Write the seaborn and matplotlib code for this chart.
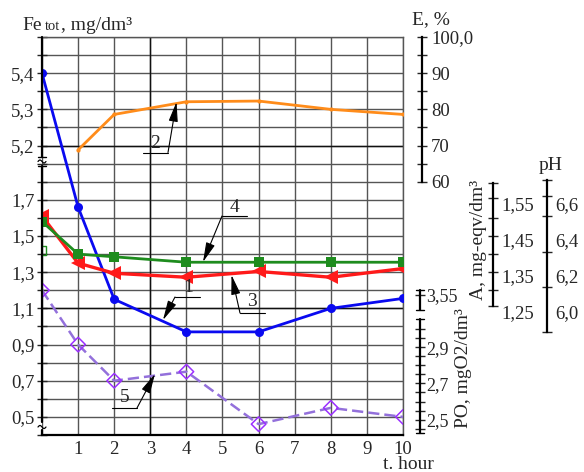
import numpy as np
import matplotlib
matplotlib.use("Agg")
import matplotlib.pyplot as plt
from matplotlib.lines import Line2D
import seaborn as sns

# ---------------- data ----------------
hours_fe = [0, 1, 2, 4, 6, 8, 10]
fe_tot = [5.40, 1.66, 1.15, 0.97, 0.97, 1.10, 1.155]

hours_e = [1, 2, 4, 6, 8, 10]
e_pct = [68.8, 78.6, 82.1, 82.3, 80.0, 78.6]

hours_a = [0, 1, 2, 4, 6, 8, 10]
alk = [1.515, 1.385, 1.357, 1.346, 1.362, 1.346, 1.37]

hours_ph = [0, 1, 2, 4, 6, 8, 10]
ph = [6.50, 6.32, 6.305, 6.275, 6.275, 6.275, 6.275]
hours_ph_extra = [0]
ph_extra = [6.34]

hours_po = [0, 1, 2, 4, 6, 8, 10]
po = [3.575, 2.915, 2.715, 2.765, 2.475, 2.565, 2.515]

x_ticks = list(range(0, 11))
x_labels = [""] + [str(i) for i in range(1, 11)]
fe_ticks = [0.5, 0.7, 0.9, 1.1, 1.3, 1.5, 1.7, 5.2, 5.3, 5.4]
fe_labels = ["0,5", "0,7", "0,9", "1,1", "1,3", "1,5", "1,7", "5,2", "5,3", "5,4"]
e_ticks = [60, 70, 80, 90, 100]
e_labels = ["60", "70", "80", "90", "100,0"]
a_ticks = [1.25, 1.35, 1.45, 1.55]
a_labels = ["1,25", "1,35", "1,45", "1,55"]
ph_ticks = [6.0, 6.2, 6.4, 6.6]
ph_labels = ["6,0", "6,2", "6,4", "6,6"]
po_ticks = [2.5, 2.7, 2.9, 3.55]
po_labels = ["2,5", "2,7", "2,9", "3,55"]


# ---------------- broken scales ----------------
def fe_fwd(v):
    v = np.asarray(v, dtype=float)
    return np.where(v <= 1.9, (v - 0.4) * 10,
                    np.where(v < 5.2, 15 + (v - 1.9) / 3.3, 16 + (v - 5.2) * 20))


def fe_inv(u):
    u = np.asarray(u, dtype=float)
    return np.where(u <= 15, 0.4 + u / 10,
                    np.where(u < 16, 1.9 + (u - 15) * 3.3, 5.2 + (u - 16) / 20))


def po_fwd(v):
    v = np.asarray(v, dtype=float)
    return np.where(v <= 3.0, 0.85 + (v - 2.5) * 10,
                    np.where(v < 3.5, 5.85 + (v - 3.0) * 2.8, 7.75 + (v - 3.55) * 10))


def po_inv(u):
    u = np.asarray(u, dtype=float)
    return np.where(u <= 5.85, 2.5 + (u - 0.85) / 10,
                    np.where(u < 7.25, 3.0 + (u - 5.85) / 2.8, 3.55 + (u - 7.75) / 10))


sns.set_style("white")
plt.rcParams["font.family"] = ["Liberation Serif", "DejaVu Serif"]
plt.rcParams["axes.unicode_minus"] = False

W, H = 584, 472
fig = plt.figure(figsize=(W / 100, H / 100), dpi=100)
L, T, R, B = 42, 37, 403, 435
ax = fig.add_axes([L / W, 1 - B / H, (R - L) / W, (B - T) / H])


def P(px, py):
    return (px / W, 1 - py / H)


def fline(xs, ys, **kw):
    fig.add_artist(Line2D([x / W for x in xs], [1 - y / H for y in ys],
                          transform=fig.transFigure, **kw))


FS_TICK = 13.5
FS_LAB = 14

# ---------------- main axis (Fe) ----------------
ax.set_yscale("function", functions=(fe_fwd, fe_inv))
sns.lineplot(x=hours_fe, y=fe_tot, ax=ax, color="#0A0AF0", lw=2, marker="o",
             markersize=6.5, markeredgewidth=0, errorbar=None, zorder=5)
ax.set_ylim(0.4, 5.5)
ax.set_xlim(0, 10)
fe_grid = [round(0.4 + 0.1 * i, 2) for i in range(16)] + [5.2, 5.25, 5.3, 5.35, 5.4, 5.45, 5.5]
ax.set_yticks(fe_ticks, labels=fe_labels)
ax.set_yticks(fe_grid, minor=True)
ax.set_xticks(x_ticks, labels=x_labels)
ax.grid(True, which="both", axis="y", color="#555555", lw=1)
ax.grid(True, which="major", axis="x", color="#555555", lw=1)
ax.axhline(1.1, color="#111111", lw=1, zorder=0.6)
ax.axhline(5.2, color="#111111", lw=1, zorder=0.6)
ax.axvline(3, color="#111111", lw=1, zorder=0.6)
ax.tick_params(axis="y", which="both", direction="inout", length=7, width=1,
               labelsize=FS_TICK, pad=2)
ax.tick_params(axis="x", which="both", length=0, labelsize=FS_TICK, pad=4)
ax.spines["left"].set_visible(False)
ax.spines["bottom"].set_linewidth(1.6)
ax.spines["bottom"].set_color("black")
for s in ("top", "right"):
    ax.spines[s].set_color("#555555")
    ax.spines[s].set_linewidth(1)
ax.set_xlabel("")
ax.set_ylabel("")

# broken left spine
lw_sp = 1.6
fline([42, 42], [37, 157], color="k", lw=lw_sp)
fline([38, 46], [157, 157], color="k", lw=1)
fline([42, 42], [166, 422], color="k", lw=lw_sp)
fline([38, 46], [166, 166], color="k", lw=1)
tx = np.linspace(-4, 4, 25)
for yc in (161.5, 427):
    fline(list(42 + tx), list(yc + 1.5 * np.sin(tx * np.pi / 4)), color="k", lw=0.9)
fline([42, 42], [430, 435], color="k", lw=lw_sp)

# ---------------- E axis ----------------
ax_e = ax.twinx()
sns.lineplot(x=hours_e, y=e_pct, ax=ax_e, color="#FF8C1A", lw=2, marker="o",
             markersize=3, markeredgewidth=0, errorbar=None)
ax_e.set_ylim(-10, 100)
ax_e.spines["right"].set_position(("axes", (422 - L) / (R - L)))
ax_e.spines["right"].set_bounds(60, 100)
ax_e.set_yticks(e_ticks, labels=e_labels)
ax_e.set_yticks([65, 75, 85, 95], minor=True)

# ---------------- A axis ----------------
ax_a = ax.twinx()
sns.lineplot(x=hours_a, y=alk, ax=ax_a, color="#FF1A1A", lw=2.4, marker="<",
             markersize=10, markeredgewidth=0, errorbar=None, zorder=4)
ax_a.set_ylim(1.25 - 6.8 * 0.05, 1.25 + 15.2 * 0.05)
ax_a.spines["right"].set_position(("axes", (493 - L) / (R - L)))
ax_a.spines["right"].set_bounds(1.267, 1.607)
ax_a.set_yticks(a_ticks, labels=a_labels)
ax_a.set_yticks([1.267, 1.31, 1.36, 1.41, 1.46, 1.51, 1.565, 1.607], minor=True)

# ---------------- pH axis ----------------
ax_ph = ax.twinx()
sns.lineplot(x=hours_ph, y=ph, ax=ax_ph, color="#1E8C1E", lw=2, marker="s",
             markersize=6.5, markeredgewidth=0, errorbar=None, zorder=3)
sns.scatterplot(x=hours_ph_extra, y=ph_extra, ax=ax_ph, marker="s", s=40,
                facecolor="none", edgecolor="#1E8C1E", linewidth=1)
ax_ph.set_ylim(6.0 - 0.68, 6.0 + 1.52)
ax_ph.spines["right"].set_position(("axes", (547 - L) / (R - L)))
ax_ph.spines["right"].set_bounds(5.89, 6.73)
ax_ph.set_yticks(ph_ticks, labels=ph_labels)
ax_ph.set_yticks([5.89, 6.14, 6.33, 6.53, 6.64, 6.73], minor=True)

# ---------------- PO axis ----------------
ax_po = ax.twinx()
ax_po.set_yscale("function", functions=(po_fwd, po_inv))
sns.lineplot(x=hours_po, y=po, ax=ax_po, color="#9370DB", lw=1.8,
             linestyle=(0, (4.5, 2)), errorbar=None)
sns.scatterplot(x=hours_po, y=po, ax=ax_po, marker="D", s=55,
                facecolor="none", edgecolor="#9B30FF", linewidth=1.1, zorder=6)
ax_po.set_ylim(float(po_inv(0)), float(po_inv(22)))
ax_po.spines["right"].set_position(("axes", (420 - L) / (R - L)))
ax_po.spines["right"].set_visible(False)
ax_po.set_yticks(po_ticks, labels=po_labels)
ax_po.set_yticks([2.45, 2.55, 2.6, 2.65, 2.75, 2.8, 2.85, 2.95, 3.0], minor=True)
fline([420, 420], [290, 310], color="k", lw=lw_sp)
fline([416, 424], [290, 290], color="k", lw=1)
fline([416, 424], [310, 310], color="k", lw=1)
fline([420, 420], [319, 433], color="k", lw=lw_sp)
fline([416, 424], [319, 319], color="k", lw=1)
fline([416, 424], [433, 433], color="k", lw=1)

for a in (ax_e, ax_a, ax_ph, ax_po):
    a.set_xlim(0, 10)
    for s in ("left", "top", "bottom"):
        a.spines[s].set_visible(False)
    a.spines["right"].set_linewidth(lw_sp)
    a.spines["right"].set_color("black")
    a.set_ylabel("")
    a.set_xlabel("")
    a.tick_params(axis="y", which="both", direction="inout", length=7, width=1,
                  labelsize=FS_TICK, pad=3)
for a in (ax_a, ax_ph):
    a.tick_params(axis="y", which="major", length=0, pad=6)
ax_po.tick_params(axis="y", which="both", labelsize=13, pad=1)
ax.set_xlim(0, 10)

# ---------------- texts ----------------
fig.text(*P(22, 30), "Fe", fontsize=FS_LAB, ha="left", va="baseline")
fig.text(*P(45, 30), "tot", fontsize=10.5, ha="left", va="baseline")
fig.text(*P(61, 30), ", mg/dm³", fontsize=FS_LAB, ha="left", va="baseline")
fig.text(*P(431, 20), "E, %", fontsize=FS_LAB, ha="center", va="center")
fig.text(*P(551, 165), "pH", fontsize=FS_LAB, ha="center", va="center")
fig.text(*P(478, 240), "A, mg-eqv/dm³", fontsize=FS_LAB, ha="center", va="center",
         rotation=90)
fig.text(*P(463, 368), "PO, mgO2/dm³", fontsize=FS_LAB, ha="center", va="center",
         rotation=90)
fig.text(*P(408, 469), "t. hour", fontsize=FS_LAB, ha="center", va="baseline")

# ---------------- callouts ----------------
callouts = [
    ("2", (176.5, 102), (168, 152.5), (143, 168), (155, 143)),
    ("4", (203, 262), (222, 216), (222, 247), (234, 207)),
    ("3", (231.5, 275), (240, 313), (240, 265), (252, 302)),
    ("1", (163, 320), (175, 297), (175, 200), (188, 288)),
    ("5", (155, 374), (137, 408), (112, 137), (125, 397)),
]
for lab, tip, tail, (ux0, ux1), lpos in callouts:
    fig.add_artist(matplotlib.patches.FancyArrowPatch(
        P(*tail), P(*tip), transform=fig.transFigure,
        arrowstyle="-|>,head_length=1.2,head_width=0.28", mutation_scale=10,
        color="k", lw=0.8, shrinkA=0, shrinkB=0))
    fline([ux0, ux1], [tail[1], tail[1]], color="k", lw=0.8)
    fig.text(*P(*lpos), lab, fontsize=FS_LAB, ha="center", va="center")

fig.savefig("out.png", dpi=100)
